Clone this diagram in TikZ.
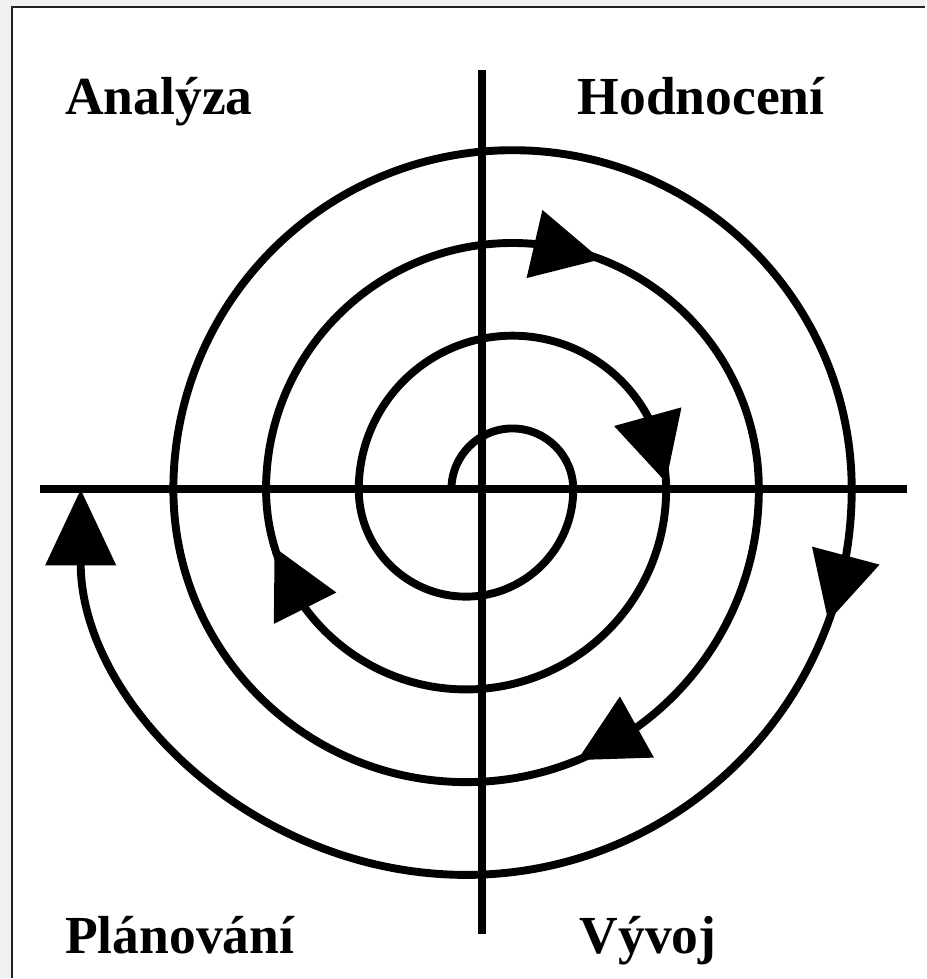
\documentclass[tikz,border=0pt]{standalone}
\usepackage{fontspec}
\setmainfont{Liberation Serif}
\usetikzlibrary{arrows.meta}
\definecolor{pagegray}{HTML}{F0F0F0}
\definecolor{framegray}{HTML}{222222}
% filled head sitting on the spiral: centre x, radius, angle of the tip
\newcommand{\spiralhead}[3]{%
  \pgfmathsetmacro{\baseang}{#3+2*asin(34/#2)}
  \pgfmathsetmacro{\tipx}{#1+#2*cos(#3)}
  \pgfmathsetmacro{\tipy}{#2*sin(#3)}
  \pgfmathsetmacro{\midx}{#1+#2*cos(\baseang)}
  \pgfmathsetmacro{\midy}{#2*sin(\baseang)}
  \pgfmathsetmacro{\headlen}{veclen(\tipx-\midx,\tipy-\midy)}
  \pgfmathsetmacro{\offx}{-35*(\tipy-\midy)/\headlen}
  \pgfmathsetmacro{\offy}{35*(\tipx-\midx)/\headlen}
  \pgfmathsetmacro{\ax}{\midx+\offx}
  \pgfmathsetmacro{\ay}{\midy+\offy}
  \pgfmathsetmacro{\bx}{\midx-\offx}
  \pgfmathsetmacro{\by}{\midy-\offy}
  \fill (\ax,\ay) -- (\tipx,\tipy) -- (\bx,\by) -- cycle;
}

\begin{document}
\begin{tikzpicture}[scale=0.02,
    spiral/.style={line width=4.5pt},
    axisline/.style={line width=4.5pt},
    quadrant/.style={anchor=base west,inner sep=0pt,
      font=\bfseries\fontsize{30.5}{36}\selectfont}]
  % page and frame
  \fill[pagegray] (-483,-489) rectangle (443,490);
  \fill[white] (-471,-489) rectangle (443,483);
  \draw[framegray,line width=1.4pt] (-471,-489) -- (-471,483) -- (443,483);
  \useasboundingbox (-483,-489) rectangle (443,490);
  % axes
  \draw[axisline] (-443,0) -- (425,0);
  \draw[axisline] (0,420) -- (0,-445);
  % spiral
  \draw[spiral,-{Triangle[length=1.52cm,width=1.38cm]}] (-31,0)
    arc[start angle=180,end angle=0,radius=61]
    arc[start angle=0,end angle=-180,radius=107.4]
    arc[start angle=180,end angle=0,radius=153.9]
    arc[start angle=0,end angle=-180,radius=200.3]
    arc[start angle=180,end angle=0,radius=246.7]
    arc[start angle=0,end angle=-180,radius=293.1]
    arc[start angle=180,end angle=0,radius=339.6]
    arc[start angle=0,end angle=-180,radius=386];
  \spiralhead{30}{246.7}{69}
  \spiralhead{30}{153.9}{2.7}
  \spiralhead{-16.4}{386}{-20}
  \spiralhead{-16.4}{293.1}{-67.6}
  \spiralhead{-16.4}{200.3}{-163.1}
  % quadrants
  \node[quadrant] (analyza) at (-418,375) {Analýza};
  \node[quadrant] (hodnoceni) at (95,375) {Hodnocení};
  \node[quadrant] (planovani) at (-418,-465) {Plánování};
  \node[quadrant] (vyvoj) at (97,-465) {Vývoj};
\end{tikzpicture}
\end{document}
